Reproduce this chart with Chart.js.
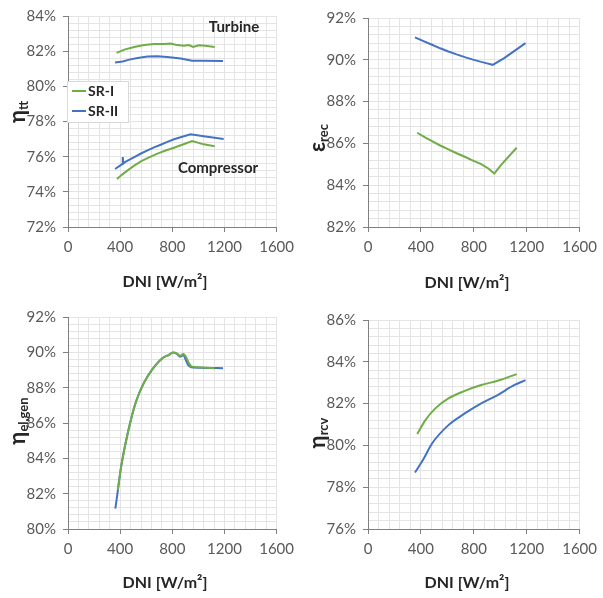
<!DOCTYPE html>
<html>
<head>
<meta charset="utf-8">
<script src="https://cdn.jsdelivr.net/npm/chart.js@4.4.1/dist/chart.umd.min.js"></script>
<style>
  body { margin: 0; background: #fff; }
  canvas { position: absolute; }
</style>
</head>
<body>
<canvas id="c1" width="300" height="300" style="left:0;top:0"></canvas>
<canvas id="c2" width="303" height="300" style="left:300px;top:0"></canvas>
<canvas id="c3" width="300" height="298" style="left:0;top:300px"></canvas>
<canvas id="c4" width="303" height="298" style="left:300px;top:300px"></canvas>
<script>
const seriesNames = ['SR-I', 'SR-II'];
const GREEN = '#70ad47', BLUE = '#4472c4';
const FONT = 'Lato, "Noto Sans", sans-serif';

// === eta_tt : turbine and compressor ===
const turbSR1Dni = [373, 432, 508, 584, 660, 737, 788, 826, 889, 927, 960, 1003, 1054, 1125];
const turbSR1Eta = [81.90, 82.09, 82.24, 82.35, 82.41, 82.41, 82.43, 82.37, 82.31, 82.35, 82.24, 82.33, 82.31, 82.24];
const turbSR2Dni = [361, 419, 470, 533, 610, 686, 762, 864, 952, 1041, 1189];
const turbSR2Eta = [81.35, 81.41, 81.52, 81.61, 81.69, 81.71, 81.67, 81.58, 81.46, 81.46, 81.44];
const compSR1Dni = [376, 415, 457, 508, 559, 622, 686, 749, 813, 876, 952, 1041, 1125];
const compSR1Eta = [74.73, 74.98, 75.22, 75.49, 75.73, 75.96, 76.17, 76.35, 76.51, 76.68, 76.89, 76.70, 76.59];
const compSR2Dni = [361, 407, 417, 420, 424, 440, 508, 560, 610, 660, 711, 762, 813, 876, 940, 1041, 1194];
const compSR2Eta = [75.30, 75.53, 75.58, 75.98, 75.62, 75.70, 75.98, 76.18, 76.36, 76.53, 76.68, 76.84, 76.99, 77.13, 77.27, 77.16, 77.00];

// === eps_rec ===
const recSR1Dni = [372, 428, 484, 546, 608, 670, 732, 794, 856, 910, 955, 1005, 1124];
const recSR1Eps = [86.51, 86.30, 86.11, 85.90, 85.71, 85.53, 85.36, 85.18, 85.01, 84.80, 84.56, 84.96, 85.79];
const recSR2Dni = [355, 420, 484, 546, 608, 670, 732, 794, 856, 900, 943, 1030, 1191];
const recSR2Eps = [91.07, 90.89, 90.72, 90.55, 90.40, 90.26, 90.13, 90.01, 89.90, 89.83, 89.76, 90.08, 90.80];

// === eta_el,gen ===
const genSR1Dni = [381, 407, 440, 483, 526, 584, 648, 724, 775, 805, 838, 859, 884, 910, 927, 952, 1041, 1125];
const genSR1Eta = [82.2, 83.5, 84.8, 86.2, 87.3, 88.3, 89.05, 89.67, 89.86, 89.99, 89.92, 89.80, 89.90, 89.67, 89.39, 89.19, 89.14, 89.10];
const genSR2Dni = [363, 381, 407, 440, 483, 526, 584, 648, 724, 775, 805, 838, 859, 884, 905, 920, 945, 1041, 1189];
const genSR2Eta = [81.15, 82.1, 83.5, 84.8, 86.2, 87.3, 88.3, 89.05, 89.67, 89.86, 89.99, 89.90, 89.75, 89.85, 89.55, 89.30, 89.15, 89.12, 89.10];

// === eta_rcv ===
const rcvSR1Dni = [372, 434, 509, 608, 732, 856, 980, 1124];
const rcvSR1Eta = [80.54, 81.21, 81.77, 82.25, 82.61, 82.89, 83.09, 83.41];
const rcvSR2Dni = [355, 422, 484, 608, 732, 856, 980, 1104, 1191];
const rcvSR2Eta = [78.70, 79.37, 80.09, 80.97, 81.53, 82.01, 82.41, 82.88, 83.12];

const xTicks = { min: 0, max: 1600, minor: 80, major: 400 };

function xy(xs, ys) { return xs.map((x, i) => ({ x, y: ys[i] })); }

function line(label, color, xs, ys, smooth) {
  const ds = {
    label, data: xy(xs, ys), borderColor: color, backgroundColor: color,
    borderWidth: 2, pointRadius: 0, fill: false, tension: 0
  };
  if (smooth) ds.cubicInterpolationMode = 'monotone';
  return ds;
}

function isMajor(v, step) { return Math.abs(v / step - Math.round(v / step)) < 1e-6; }

function drawYTitle(ctx, bx, cy, main, sub) {
  ctx.save();
  ctx.translate(bx, cy);
  ctx.rotate(-Math.PI / 2);
  ctx.fillStyle = '#262626';
  ctx.textBaseline = 'alphabetic';
  ctx.font = 'bold 22px ' + FONT;
  const w1 = ctx.measureText(main).width;
  ctx.font = 'bold 13px ' + FONT;
  const w2 = ctx.measureText(sub).width;
  const x0 = -(w1 + w2) / 2;
  ctx.font = 'bold 22px ' + FONT;
  ctx.fillText(main, x0, 0);
  ctx.font = 'bold 13px ' + FONT;
  ctx.fillText(sub, x0 + w1, 3);
  ctx.restore();
}

function makeChart(id, box, yMin, yMax, datasets, deco) {
  const canvas = document.getElementById(id);
  const W = canvas.width, H = canvas.height;
  return new Chart(canvas, {
    type: 'line',
    data: { datasets },
    options: {
      responsive: false, animation: false, devicePixelRatio: 1,
      layout: { padding: { left: 0, top: box.top, right: W - box.right, bottom: 0 } },
      plugins: { legend: { display: false }, tooltip: { enabled: false } },
      scales: {
        x: {
          type: 'linear', min: xTicks.min, max: xTicks.max,
          afterFit: s => { s.height = H - box.bottom; },
          ticks: {
            stepSize: xTicks.minor, autoSkip: false, maxRotation: 0, padding: 6,
            color: '#595959', font: { family: FONT, size: 15 },
            callback: v => isMajor(v, xTicks.major) ? String(v) : ''
          },
          grid: {
            color: '#e4e4e4', tickLength: 5,
            tickColor: c => (c.tick && isMajor(c.tick.value, xTicks.major)) ? '#808080' : 'rgba(0,0,0,0)'
          },
          border: { color: '#808080' }
        },
        y: {
          type: 'linear', min: yMin, max: yMax,
          afterFit: s => { s.width = box.left; },
          ticks: {
            stepSize: 0.4, autoSkip: false, padding: 7,
            color: '#595959', font: { family: FONT, size: 15 },
            callback: v => isMajor(v, 2) ? Math.round(v) + '%' : ''
          },
          grid: {
            color: '#e4e4e4', tickLength: 5,
            tickColor: c => (c.tick && isMajor(c.tick.value, 2)) ? '#808080' : 'rgba(0,0,0,0)'
          },
          border: { color: '#808080' }
        }
      }
    },
    plugins: [{
      id: 'deco',
      afterDraw(chart) {
        const ctx = chart.ctx;
        ctx.save();
        ctx.fillStyle = '#262626';
        ctx.font = 'bold 16px ' + FONT;
        ctx.textAlign = 'center';
        ctx.textBaseline = 'middle';
        ctx.fillText('DNI [W/m²]', deco.xTitle[0], deco.xTitle[1]);
        ctx.restore();
        drawYTitle(ctx, deco.yTitle[0], deco.yTitle[1], deco.yTitle[2], deco.yTitle[3]);
        if (deco.extra) deco.extra(ctx);
      }
    }]
  });
}

// top-left: eta_tt
makeChart('c1', { left: 68, right: 278, top: 16, bottom: 227 }, 72, 84, [
  line(seriesNames[0], GREEN, turbSR1Dni, turbSR1Eta),
  line(seriesNames[1], BLUE, turbSR2Dni, turbSR2Eta),
  line(seriesNames[0], GREEN, compSR1Dni, compSR1Eta),
  line(seriesNames[1], BLUE, compSR2Dni, compSR2Eta)
], {
  xTitle: [165, 282], yTitle: [25, 112, 'η', 'tt'],
  extra(ctx) {
    ctx.save();
    ctx.fillStyle = '#262626';
    ctx.font = 'bold 15px ' + FONT;
    ctx.textAlign = 'center';
    ctx.textBaseline = 'middle';
    ctx.fillText('Turbine', 234, 27);
    ctx.fillText('Compressor', 218, 168);
    // legend
    ctx.fillStyle = '#fff';
    ctx.strokeStyle = '#d9d9d9';
    ctx.lineWidth = 1;
    ctx.fillRect(67.5, 81.5, 61, 41);
    ctx.strokeRect(67.5, 81.5, 61, 41);
    [[GREEN, 91], [BLUE, 111]].forEach(([col, y], i) => {
      ctx.strokeStyle = col;
      ctx.lineWidth = 2;
      ctx.beginPath(); ctx.moveTo(72, y); ctx.lineTo(86, y); ctx.stroke();
      ctx.fillStyle = '#262626';
      ctx.font = 'bold 14px ' + FONT;
      ctx.textAlign = 'left';
      ctx.fillText(seriesNames[i], 88, y);
    });
    ctx.restore();
  }
});

// top-right: eps_rec
makeChart('c2', { left: 68, right: 283, top: 18, bottom: 227 }, 82, 92, [
  line(seriesNames[0], GREEN, recSR1Dni, recSR1Eps),
  line(seriesNames[1], BLUE, recSR2Dni, recSR2Eps)
], { xTitle: [167, 283], yTitle: [25, 138, 'ε', 'rec'] });

// bottom-left: eta_el,gen
makeChart('c3', { left: 68, right: 278, top: 17, bottom: 229 }, 80, 92, [
  line(seriesNames[0], GREEN, genSR1Dni, genSR1Eta, true),
  line(seriesNames[1], BLUE, genSR2Dni, genSR2Eta, true)
], { xTitle: [165, 283], yTitle: [25, 121, 'η', 'el,gen'] });

// bottom-right: eta_rcv
makeChart('c4', { left: 68, right: 283, top: 20, bottom: 229 }, 76, 86, [
  line(seriesNames[0], GREEN, rcvSR1Dni, rcvSR1Eta, true),
  line(seriesNames[1], BLUE, rcvSR2Dni, rcvSR2Eta, true)
], { xTitle: [167, 283], yTitle: [25, 133, 'η', 'rcv'] });
</script>
</body>
</html>
